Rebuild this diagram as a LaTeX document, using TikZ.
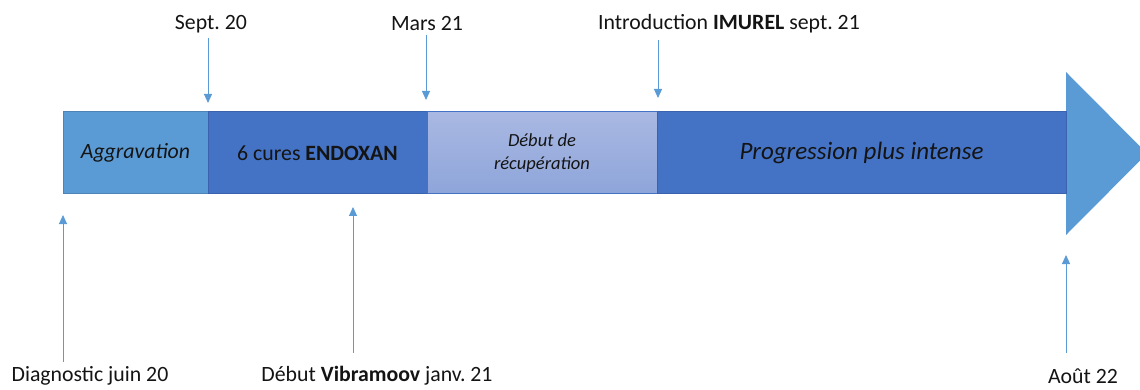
\documentclass[tikz,border=0pt]{standalone}
\usepackage{fontspec}
\setmainfont{Carlito}
\usetikzlibrary{arrows.meta}
\frenchspacing

\definecolor{lightblue}{HTML}{5B9BD5}
\definecolor{midblue}{HTML}{4472C4}
\definecolor{darkblue}{HTML}{3A62AD}
\definecolor{paleblue}{HTML}{A9B8E2}
\definecolor{palebluelow}{HTML}{8EA5DA}
\definecolor{inktext}{HTML}{141414}

\begin{document}
\begin{tikzpicture}[x=1pt,y=-1pt,
    every node/.style={font=\fontsize{21.8}{26}\selectfont,text=inktext},
    phase/.style={draw=darkblue,line width=1pt,fill=midblue,minimum height=82pt,
      anchor=north west,inner sep=0pt,outer sep=0pt},
    tick/.style={draw=lightblue,line width=0.9pt,-{Triangle[width=8pt,length=9pt,fill=lightblue]}}]

      \useasboundingbox (0,0) rectangle (1140,390);

      % the timeline bar
      \fill[lightblue] (1066,72) -- (1147,153.5) -- (1066,235) -- cycle;
      \node[phase,fill=lightblue,draw=lightblue!85!black,minimum width=145pt] (agg) at (63,112) {\itshape Aggravation};
      \node[phase,minimum width=219pt] (endo) at (208,112) {6 cures \textbf{ENDOXAN}};
      \node[phase,top color=paleblue,bottom color=palebluelow,draw=midblue,minimum width=230pt,
        align=center,font=\fontsize{18.5}{23}\selectfont\itshape] (recup) at (427,112) {Début de\\récupération};
      \node[phase,minimum width=409pt,font=\fontsize{25}{28}\selectfont\itshape] (prog) at (657,112) {Progression plus intense};

      % dates
      \node (sept) at (211,24) {Sept. 20};
      \node (mars) at (427,24) {Mars 21};
      \node (imu) at (729,24) {Introduction \textbf{IMUREL} sept. 21};
      \node (diag) at (90,376) {Diagnostic juin 20};
      \node (vibra) at (377,376) {Début \textbf{Vibramoov} janv. 21};
      \node (aout) at (1083,376) {Août 22};

      \coordinate (sept-a) at (208,38);
      \coordinate (sept-b) at (208,103);
      \coordinate (mars-a) at (426,35);
      \coordinate (mars-b) at (426,100);
      \coordinate (imu-a) at (658,40);
      \coordinate (imu-b) at (658,98);
      \coordinate (diag-a) at (63,362);
      \coordinate (diag-b) at (63,215);
      \coordinate (vibra-a) at (353,353);
      \coordinate (vibra-b) at (353,207);
      \coordinate (aout-a) at (1066,353);
      \coordinate (aout-b) at (1066,255);

      \draw[tick] (sept-a) -- (sept-b);
      \draw[tick] (mars-a) -- (mars-b);
      \draw[tick] (imu-a) -- (imu-b);

      \draw[tick] (diag-a) -- (diag-b);
      \draw[tick] (vibra-a) -- (vibra-b);
      \draw[tick] (aout-a) -- (aout-b);
    \end{tikzpicture}
\end{document}
